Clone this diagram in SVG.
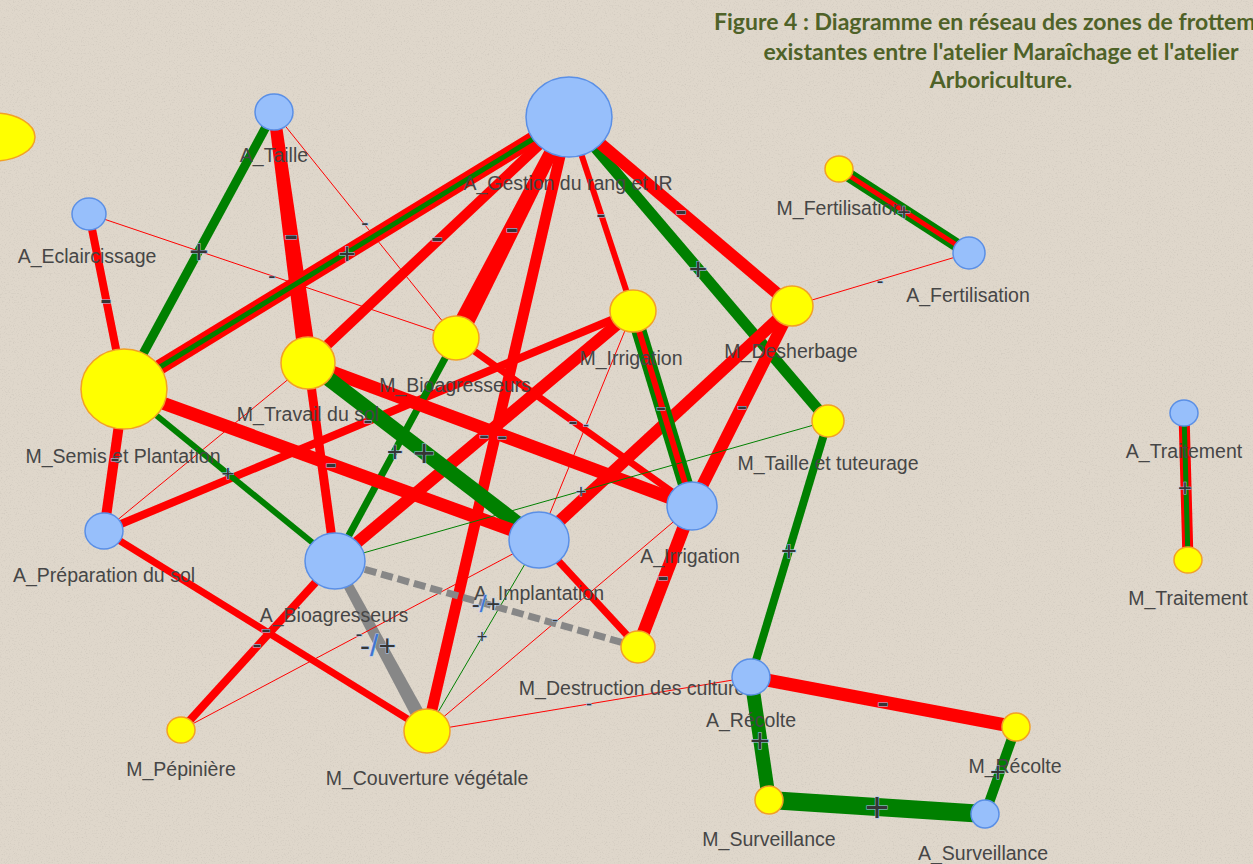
<svg xmlns="http://www.w3.org/2000/svg" width="1253" height="864" viewBox="0 0 1253 864">
<defs>
<style>
.bg{fill:#dfd7cb}
.title{font-family:Lato,"Liberation Sans",Arial,sans-serif;font-weight:bold;font-size:23px;fill:#4f6228}
.nl{font-family:"Liberation Sans",Arial,sans-serif;font-size:19.5px;fill:#464646;text-anchor:middle}
.a{fill:#97bffb;stroke:#5a8fe6;stroke-width:1.5}
.m{fill:#ffff00;stroke:#f2a126;stroke-width:1.5}
.r{stroke:#ff0000;fill:none}
.g{stroke:#008000;fill:none}
.k{stroke:#878787;fill:none}
.rf{fill:#ff0000}
.kf{fill:#878787}
.dash{stroke-dasharray:12 5}
.el{font-family:"Liberation Sans",Arial,sans-serif;fill:#353535;text-anchor:middle;stroke:#a9c7f2;stroke-width:1;paint-order:stroke}
.sl{fill:#3f74d0}
</style>
<filter id="tex" x="0" y="0" width="100%" height="100%">
<feTurbulence type="fractalNoise" baseFrequency="0.75" numOctaves="2" seed="7" result="n"/>
<feColorMatrix in="n" type="matrix" values="0 0 0 0 0.42  0 0 0 0 0.39  0 0 0 0 0.35  2.2 0 0 0 -1.15"/>
</filter>
</defs>
<rect class="bg" x="0" y="0" width="1253" height="864"/>
<rect x="0" y="0" width="1253" height="864" filter="url(#tex)" opacity="0.35"/>

<g id="title">
<text class="title" x="714" y="30">Figure 4 : Diagramme en réseau des zones de frottements</text>
<text class="title" x="1001" y="60" text-anchor="middle">existantes entre l'atelier Maraîchage et l'atelier</text>
<text class="title" x="1001" y="88" text-anchor="middle">Arboriculture.</text>
</g>

<g id="connectors">
<polygon class="rf" points="268.05,112.8 279.95,111.2 316.92,361.79 299.08,364.21"/>
<line class="g" stroke-width="9" x1="274" y1="112" x2="124" y2="389"/>
<line class="r" stroke-width="1" x1="274" y1="112" x2="456" y2="338"/>
<line class="r" stroke-width="8" x1="89" y1="214" x2="124" y2="389"/>
<line class="r" stroke-width="1" x1="89" y1="214" x2="456" y2="338"/>
<line class="r" stroke-width="15" x1="569" y1="117" x2="124" y2="389"/>
<line class="g" stroke-width="5" x1="569" y1="117" x2="124" y2="389"/>
<line class="r" stroke-width="10" x1="569" y1="117" x2="308" y2="363"/>
<polygon class="rf" points="563.66,114.27 574.34,119.73 464.9,342.55 447.1,333.45"/>
<line class="r" stroke-width="11" x1="569" y1="117" x2="427" y2="731"/>
<line class="r" stroke-width="6" x1="569" y1="117" x2="633" y2="311"/>
<line class="g" stroke-width="11" x1="569" y1="117" x2="828" y2="421"/>
<line class="r" stroke-width="12" x1="569" y1="117" x2="792" y2="306"/>
<line class="g" stroke-width="13" x1="839" y1="169" x2="969" y2="253"/>
<line class="r" stroke-width="5" x1="839" y1="169" x2="969" y2="253"/>
<line class="r" stroke-width="1" x1="969" y1="253" x2="792" y2="306"/>
<line class="r" stroke-width="12" x1="792" y1="306" x2="539" y2="540"/>
<line class="r" stroke-width="12" x1="792" y1="306" x2="692" y2="506"/>
<line class="g" stroke-width="15" x1="633" y1="311" x2="692" y2="506"/>
<line class="r" stroke-width="6" x1="633" y1="311" x2="692" y2="506"/>
<line class="r" stroke-width="12" x1="633" y1="311" x2="335" y2="561"/>
<line class="r" stroke-width="8" x1="633" y1="311" x2="104" y2="531"/>
<line class="r" stroke-width="1" x1="633" y1="311" x2="539" y2="540"/>
<line class="g" stroke-width="7" x1="456" y1="338" x2="335" y2="561"/>
<line class="r" stroke-width="7" x1="456" y1="338" x2="692" y2="506"/>
<line class="r" stroke-width="9" x1="308" y1="363" x2="335" y2="561"/>
<line class="r" stroke-width="13" x1="308" y1="363" x2="692" y2="506"/>
<line class="g" stroke-width="15" x1="308" y1="363" x2="539" y2="540"/>
<line class="r" stroke-width="1" x1="308" y1="363" x2="104" y2="531"/>
<line class="r" stroke-width="10" x1="124" y1="389" x2="104" y2="531"/>
<line class="g" stroke-width="6" x1="124" y1="389" x2="335" y2="561"/>
<line class="r" stroke-width="13" x1="124" y1="389" x2="539" y2="540"/>
<line class="g" stroke-width="1" x1="828" y1="421" x2="335" y2="561"/>
<line class="g" stroke-width="8" x1="828" y1="421" x2="751" y2="677"/>
<polygon class="kf" points="331.04,563.14 338.96,558.86 433.15,727.67 420.85,734.33"/>
<line class="r" stroke-width="7" x1="427" y1="731" x2="104" y2="531"/>
<line class="g" stroke-width="1" x1="427" y1="731" x2="539" y2="540"/>
<line class="r" stroke-width="1" x1="427" y1="731" x2="692" y2="506"/>
<line class="r" stroke-width="1" x1="427" y1="731" x2="751" y2="677"/>
<line class="r" stroke-width="8" x1="181" y1="730" x2="335" y2="561"/>
<line class="r" stroke-width="1" x1="181" y1="730" x2="539" y2="540"/>
<line class="r" stroke-width="7" x1="638" y1="647" x2="539" y2="540"/>
<line class="r" stroke-width="13" x1="638" y1="647" x2="692" y2="506"/>
<line class="k dash" stroke-width="7" x1="638" y1="647" x2="335" y2="561"/>
<line class="r" stroke-width="13" x1="751" y1="677" x2="1016" y2="727"/>
<line class="g" stroke-width="14" x1="751" y1="677" x2="769" y2="800"/>
<line class="g" stroke-width="18" x1="769" y1="800" x2="985" y2="814"/>
<line class="g" stroke-width="10" x1="985" y1="814" x2="1016" y2="727"/>
<line class="r" stroke-width="11" x1="1184" y1="413" x2="1188" y2="560"/>
<line class="g" stroke-width="5" x1="1184" y1="413" x2="1188" y2="560"/>
</g>

<g id="n-left"><ellipse class="m" cx="-6" cy="137" rx="41" ry="24"/></g>
<g id="n-a-taille"><ellipse class="a" cx="274" cy="112" rx="19" ry="18"/><text class="nl" x="274" y="162">A_Taille</text></g>
<g id="n-a-eclaircissage"><ellipse class="a" cx="89" cy="214" rx="17" ry="16"/><text class="nl" x="87" y="263">A_Eclaircissage</text></g>
<g id="n-a-gestion"><ellipse class="a" cx="569" cy="117" rx="43" ry="40"/><text class="nl" x="568" y="190">A_Gestion du rang et IR</text></g>
<g id="n-m-fertilisation"><ellipse class="m" cx="839" cy="169" rx="14" ry="13"/><text class="nl" x="840" y="215">M_Fertilisation</text></g>
<g id="n-a-fertilisation"><ellipse class="a" cx="969" cy="253" rx="16" ry="16"/><text class="nl" x="968" y="302">A_Fertilisation</text></g>
<g id="n-m-desherbage"><ellipse class="m" cx="792" cy="306" rx="21" ry="20"/><text class="nl" x="791" y="358">M_Desherbage</text></g>
<g id="n-m-irrigation"><ellipse class="m" cx="633" cy="311" rx="23" ry="21"/><text class="nl" x="631" y="365">M_Irrigation</text></g>
<g id="n-m-bioagresseurs"><ellipse class="m" cx="456" cy="338" rx="23" ry="22"/><text class="nl" x="455" y="392">M_Bioagresseurs</text></g>
<g id="n-m-travail"><ellipse class="m" cx="308" cy="363" rx="27" ry="26"/><text class="nl" x="308" y="421">M_Travail du sol</text></g>
<g id="n-m-semis"><ellipse class="m" cx="124" cy="389" rx="43" ry="40"/><text class="nl" x="123" y="463">M_Semis et Plantation</text></g>
<g id="n-m-taille"><ellipse class="m" cx="828" cy="421" rx="16" ry="16"/><text class="nl" x="828" y="470">M_Taille et tuteurage</text></g>
<g id="n-a-traitement"><ellipse class="a" cx="1184" cy="413" rx="14" ry="13"/><text class="nl" x="1184" y="458">A_Traitement</text></g>
<g id="n-m-traitement"><ellipse class="m" cx="1188" cy="560" rx="14" ry="13"/><text class="nl" x="1188" y="605">M_Traitement</text></g>
<g id="n-a-preparation"><ellipse class="a" cx="104" cy="531" rx="19" ry="18"/><text class="nl" x="104" y="582">A_Préparation du sol</text></g>
<g id="n-a-bioagresseurs"><ellipse class="a" cx="335" cy="561" rx="30" ry="28"/><text class="nl" x="334" y="622">A_Bioagresseurs</text></g>
<g id="n-a-implantation"><ellipse class="a" cx="539" cy="540" rx="30" ry="28"/><text class="nl" x="539" y="600">A_Implantation</text></g>
<g id="n-a-irrigation"><ellipse class="a" cx="692" cy="506" rx="25" ry="24"/><text class="nl" x="690" y="563">A_Irrigation</text></g>
<g id="n-m-destruction"><ellipse class="m" cx="638" cy="647" rx="17" ry="16"/><text class="nl" x="637" y="695">M_Destruction des cultures</text></g>
<g id="n-a-recolte"><ellipse class="a" cx="751" cy="677" rx="19" ry="18"/><text class="nl" x="751" y="727">A_Récolte</text></g>
<g id="n-m-recolte"><ellipse class="m" cx="1016" cy="727" rx="14" ry="14"/><text class="nl" x="1015" y="773">M_Récolte</text></g>
<g id="n-m-pepiniere"><ellipse class="m" cx="181" cy="730" rx="14" ry="13"/><text class="nl" x="181" y="776">M_Pépinière</text></g>
<g id="n-m-couverture"><ellipse class="m" cx="427" cy="731" rx="23" ry="22"/><text class="nl" x="427" y="785">M_Couverture végétale</text></g>
<g id="n-m-surveillance"><ellipse class="m" cx="769" cy="800" rx="14" ry="14"/><text class="nl" x="769" y="846">M_Surveillance</text></g>
<g id="n-a-surveillance"><ellipse class="a" cx="985" cy="814" rx="14" ry="14"/><text class="nl" x="983" y="860">A_Surveillance</text></g>

<g id="connector-labels">
<text class="el" font-size="44" x="291" y="249">-</text>
<text class="el" font-size="33" x="199" y="263">+</text>
<text class="el" font-size="22" x="365" y="230">-</text>
<text class="el" font-size="36" x="106" y="311">-</text>
<text class="el" font-size="22" x="272" y="283">-</text>
<text class="el" font-size="30" x="347" y="264">+</text>
<text class="el" font-size="38" x="437" y="250">-</text>
<text class="el" font-size="40" x="512" y="241">-</text>
<text class="el" font-size="28" x="601" y="223">-</text>
<text class="el" font-size="32" x="698" y="280">+</text>
<text class="el" font-size="36" x="681" y="222">-</text>
<text class="el" font-size="24" x="904" y="220">+</text>
<text class="el" font-size="20" x="880" y="288">-</text>
<text class="el" font-size="32" x="742" y="416">-</text>
<text class="el" font-size="32" x="661" y="417">-</text>
<text class="el" font-size="32" x="484" y="445">-</text>
<text class="el" font-size="28" x="368" y="429">-</text>
<text class="el" font-size="18" x="586" y="431">-</text>
<text class="el" font-size="28" x="395" y="461">+</text>
<text class="el" font-size="28" x="573" y="430">-</text>
<text class="el" font-size="32" x="502" y="446">-</text>
<text class="el" font-size="38" x="424" y="466">+</text>
<text class="el" font-size="28" x="115" y="467">-</text>
<text class="el" font-size="22" x="228" y="481">+</text>
<text class="el" font-size="36" x="331" y="475">-</text>
<text class="el" font-size="18" x="581" y="498">+</text>
<text class="el" font-size="27" x="789" y="560">+</text>
<text class="el" font-size="30" x="378" y="656">-<tspan class="sl">/</tspan>+</text>
<text class="el" font-size="30" x="266" y="639">-</text>
<text class="el" font-size="18" x="482" y="643">+</text>
<text class="el" font-size="18" x="555" y="626">-</text>
<text class="el" font-size="18" x="589" y="710">-</text>
<text class="el" font-size="28" x="257" y="653">-</text>
<text class="el" font-size="20" x="359" y="641">-</text>
<text class="el" font-size="36" x="663" y="588">-</text>
<text class="el" font-size="24" x="486" y="612">-<tspan class="sl">/</tspan>+</text>
<text class="el" font-size="36" x="883" y="714">-</text>
<text class="el" font-size="34" x="760" y="752">+</text>
<text class="el" font-size="42" x="877" y="822">+</text>
<text class="el" font-size="27" x="998" y="781">+</text>
<text class="el" font-size="24" x="1185" y="496">+</text>
</g>
</svg>
